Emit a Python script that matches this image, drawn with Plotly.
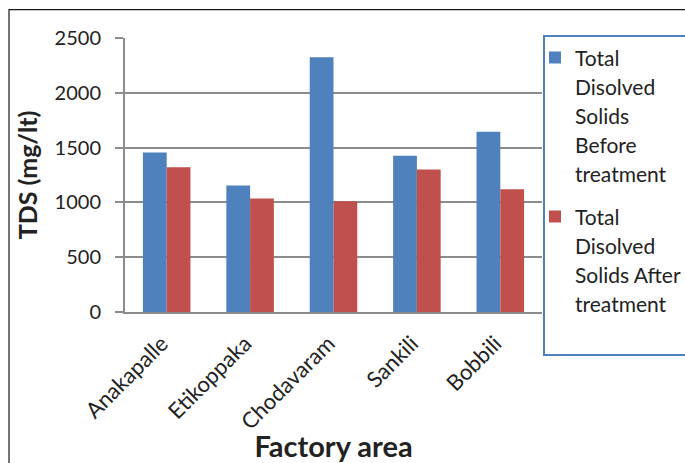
import plotly.graph_objects as go

# Factory areas and TDS readings (mg/lt)
areas = ["Anakapalle", "Etikoppaka", "Chodavaram", "Sankili", "Bobbili"]
tds_before = [1455, 1155, 2325, 1425, 1645]
tds_after = [1320, 1035, 1010, 1300, 1120]

series_before = ["Total", "Disolved", "Solids", "Before", "treatment"]
series_after = ["Total", "Disolved", "Solids After", "treatment", "\u00a0"]

FONT = "Lato"
TEXT = "#222222"
GRID = "#8C8C8C"


def legend_name(lines, size=21):
    return "<br>".join(f"<span style='font-size:{size}px'>{ln}</span>" for ln in lines)


fig = go.Figure()
fig.add_trace(go.Bar(x=areas, y=tds_before, name=legend_name(series_before),
                     marker=dict(color="#4F81BD", line=dict(width=0)),
                     legendgroup="before"))
fig.add_trace(go.Bar(x=areas, y=tds_after, name=legend_name(series_after),
                     marker=dict(color="#C0504D", line=dict(width=0)),
                     legendgroup="after"))

W, H = 685, 463
L, R, T, B = 125, 143, 37.5, 150.5
pw, ph = W - L - R, H - T - B


def px_x(p):
    return (p - L) / pw


def px_y(p):
    return (H - B - p) / ph


fig.update_layout(
    width=W, height=H,
    margin=dict(l=L, r=R, t=T, b=B, autoexpand=False),
    paper_bgcolor="white", plot_bgcolor="white",
    font=dict(family=FONT, color=TEXT),
    barmode="group", bargap=0.43, bargroupgap=0,
    showlegend=True,
    legend=dict(
        x=px_x(543), y=px_y(34), xanchor="left", yanchor="top",
        bgcolor="white", bordercolor="#4F81BD", borderwidth=2,
        font=dict(family=FONT, size=22.3, color=TEXT),
        valign="top", traceorder="grouped", tracegroupgap=11,
        indentation=-10, maxheight=440,
    ),
    xaxis=dict(
        range=[-0.5, 4.5],
        tickangle=-45, tickfont=dict(family=FONT, size=22, color=TEXT),
        ticklabelstandoff=8, ticklabelshift=-5,
        showline=True, linecolor=GRID, linewidth=2,
        showgrid=False, ticks="",
        title=dict(text="<b>Factory area</b>",
                   font=dict(family=FONT, size=29, color=TEXT), standoff=7),
    ),
    yaxis=dict(
        range=[0, 2500], tickvals=[0, 500, 1000, 1500, 2000, 2500],
        tickfont=dict(family=FONT, size=20, color=TEXT),
        ticklabelstandoff=10,
        showline=True, linecolor=GRID, linewidth=2,
        showgrid=True, gridcolor=GRID, gridwidth=2,
        ticks="outside", ticklen=8, tickcolor=GRID, tickwidth=2,
        zeroline=False,
        title=dict(text="<b>TDS (mg/lt)</b>",
                   font=dict(family=FONT, size=25, color=TEXT), standoff=10),
    ),
    shapes=[dict(type="rect", xref="paper", yref="paper",
                 x0=px_x(9), y0=px_y(480), x1=px_x(700), y1=px_y(9),
                 line=dict(color="#1a1a1a", width=1.2), layer="below")],
)

fig.write_html("out.html")
